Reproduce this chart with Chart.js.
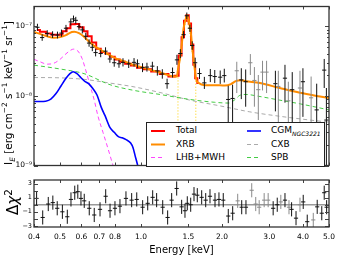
<!DOCTYPE html>
<html>
<head>
<meta charset="utf-8">
<script src="https://cdn.jsdelivr.net/npm/chart.js@4.4.1/dist/chart.umd.min.js"></script>
<style>
  html, body { margin: 0; padding: 0; background: #fff; }
  #wrap { position: relative; width: 341px; height: 256px; font-family: "DejaVu Sans", sans-serif; color: #000; }
  canvas { position: absolute; left: 0; }
  #top { top: 0; }
  #bot { top: 172px; }
  .rot { position: absolute; white-space: nowrap; transform: translate(-50%, -50%) rotate(-90deg); line-height: 1; }
  .rot sup, .rot sub { font-size: 70%; line-height: 0; }
  #ylab1 { left: 8px; top: 93px; font-size: 10.5px; }
  #ylab2 { left: 13px; top: 202px; font-size: 15px; }
  #legend { position: absolute; left: 146px; top: 122px; width: 177px; height: 43px; background: #fff; border: 1px solid #222; }
  #legend svg { position: absolute; left: 0; top: 0; }
  #legend span { position: absolute; font-size: 9px; line-height: 11px; white-space: nowrap; }
  #legend sub { font-size: 6px; font-style: italic; line-height: 0; }
</style>
</head>
<body>
<div id="wrap">
  <canvas id="top" width="341" height="172" style="width:341px;height:172px"></canvas>
  <canvas id="bot" width="341" height="84" style="width:341px;height:84px"></canvas>
  <div id="ylab1" class="rot">I<sub><i>E</i></sub> [erg cm<sup>−2</sup> s<sup>−1</sup> keV<sup>−1</sup> sr<sup>−1</sup>]</div>
  <div id="ylab2" class="rot">Δ<i>χ</i><sup>2</sup></div>
  <div id="legend">
    <svg width="177" height="43">
      <line x1="4" y1="8" x2="18" y2="8" stroke="#ff0000" stroke-width="2"/>
      <line x1="4" y1="21.5" x2="18" y2="21.5" stroke="#ff8c00" stroke-width="2"/>
      <line x1="4" y1="34.5" x2="18" y2="34.5" stroke="#ff44ff" stroke-width="1" stroke-dasharray="4,3"/>
      <line x1="100" y1="8" x2="114" y2="8" stroke="#0000ff" stroke-width="1.6"/>
      <line x1="100" y1="21.5" x2="114" y2="21.5" stroke="#aaaaaa" stroke-width="1" stroke-dasharray="4,3"/>
      <line x1="100" y1="34.5" x2="114" y2="34.5" stroke="#44cc44" stroke-width="1" stroke-dasharray="4,3"/>
    </svg>
    <span style="left:29px;top:2px">Total</span>
    <span style="left:29px;top:16px">XRB</span>
    <span style="left:29px;top:29px">LHB+MWH</span>
    <span style="left:124px;top:2px">CGM<sub>NGC3221</sub></span>
    <span style="left:124px;top:16px">CXB</span>
    <span style="left:124px;top:29px">SPB</span>
  </div>
</div>
<script>
// spectrum data (black points)
const dataE = [0.412,0.429,0.448,0.469,0.489,0.506,0.526,0.548,0.561,0.572,0.588,0.605,0.623,0.641,0.659,0.678,0.708,0.738,0.766,0.795,0.828,0.857,0.900,0.942,0.970,1.013,1.052,1.102,1.150,1.200,1.250,1.310,1.360,1.400,1.440,1.480,1.520,1.550,1.590,1.650,1.720,1.810,1.880,1.970,2.040,2.110,2.190,2.360,2.450,3.160,3.430,3.650,4.000,4.500,4.800,4.890];
const dataV = [9.7e-8,6.9e-8,7.9e-8,7.6e-8,7.5e-8,8.0e-8,9.4e-8,1.16e-7,1.28e-7,1.22e-7,9.9e-8,8.9e-8,7.2e-8,5.75e-8,5.0e-8,4.2e-8,4.07e-8,4.4e-8,3.4e-8,3.0e-8,2.9e-8,3.04e-8,2.9e-8,3.04e-8,2.9e-8,2.55e-8,2.6e-8,2.68e-8,2.29e-8,2.07e-8,1.5e-8,2.17e-8,3.3e-8,4.07e-8,7.6e-8,1.42e-7,9.4e-8,5.3e-8,3.0e-8,2.1e-8,1.54e-8,1.96e-8,1.9e-8,1.86e-8,1.96e-8,8.9e-9,9.2e-9,1.7e-8,1.6e-8,1.5e-8,1.8e-8,1.23e-8,1.6e-8,6.3e-9,2.35e-8,4.5e-9];
const dataLo = [8.7e-8,6.2e-8,7.1e-8,6.8e-8,6.7e-8,7.1e-8,8.4e-8,1.03e-7,1.14e-7,1.09e-7,8.8e-8,7.9e-8,6.4e-8,5.1e-8,4.4e-8,3.7e-8,3.6e-8,3.9e-8,3.0e-8,2.63e-8,2.54e-8,2.65e-8,2.52e-8,2.64e-8,2.5e-8,2.2e-8,2.24e-8,2.3e-8,1.96e-8,1.77e-8,1.27e-8,1.84e-8,2.8e-8,3.5e-8,6.7e-8,1.28e-7,8.3e-8,4.6e-8,2.55e-8,1.75e-8,1.26e-8,1.58e-8,1.53e-8,1.49e-8,1.56e-8,2.5e-9,3e-9,9e-9,7e-9,6e-9,8e-9,1e-10,5e-9,1e-10,1.3e-8,1e-10];
const dataHi = [1.09e-7,7.7e-8,8.8e-8,8.5e-8,8.4e-8,9.0e-8,1.05e-7,1.3e-7,1.43e-7,1.37e-7,1.11e-7,1.0e-7,8.1e-8,6.5e-8,5.6e-8,4.75e-8,4.6e-8,5.0e-8,3.85e-8,3.42e-8,3.3e-8,3.48e-8,3.33e-8,3.5e-8,3.35e-8,2.95e-8,3.0e-8,3.1e-8,2.68e-8,2.42e-8,1.77e-8,2.56e-8,3.9e-8,4.7e-8,8.6e-8,1.58e-7,1.06e-7,6.1e-8,3.55e-8,2.5e-8,1.88e-8,2.44e-8,2.36e-8,2.32e-8,2.46e-8,1.4e-8,1.45e-8,2.5e-8,2.4e-8,2.3e-8,2.8e-8,2.2e-8,2.5e-8,1.5e-8,3.4e-8,1.3e-8];

// spectrum data (grey points)
const greyE = [2.27,2.55,2.64,2.73,2.83,2.93,3.24,3.53,3.90,4.29];
const greyV = [2.3e-8,3.0e-8,1.67e-8,1.23e-8,2.2e-8,2.2e-8,1.37e-8,8.5e-9,1.3e-8,9.4e-9];
const greyLo = [1.1e-8,2.0e-8,7e-9,4.5e-9,1.2e-8,1.1e-8,4e-9,2e-9,1e-10,1e-10];
const greyHi = [3.1e-8,4.0e-8,2.6e-8,2.0e-8,3.2e-8,3.2e-8,2.3e-8,1.6e-8,2.3e-8,1.9e-8];

// model components (total is hidden under XRB above 1.64 keV)
const totE = [0.410,0.432,0.454,0.476,0.500,0.521,0.537,0.556,0.578,0.601,0.622,0.643,0.668,0.695,0.722,0.751,0.781,0.816,0.852,0.894,0.941,0.992,1.055,1.128,1.220,1.310,1.360,1.400,1.430,1.460,1.490,1.520,1.550,1.580,1.600,1.640];
const totV = [8.9e-8,8.4e-8,7.9e-8,7.6e-8,7.6e-8,8.5e-8,9.4e-8,1.07e-7,1.08e-7,9.7e-8,8.5e-8,7.2e-8,5.87e-8,4.76e-8,4.29e-8,4.07e-8,3.67e-8,3.34e-8,3.09e-8,2.9e-8,2.73e-8,2.54e-8,2.42e-8,2.24e-8,2.07e-8,1.9e-8,1.95e-8,3.8e-8,7e-8,1.2e-7,1.45e-7,1.1e-7,5.5e-8,2.8e-8,1.8e-8,1.53e-8];
const xrbE = [0.400,0.421,0.448,0.474,0.500,0.526,0.553,0.565,0.588,0.614,0.646,0.682,0.729,0.795,0.866,0.942,1.026,1.118,1.218,1.327,1.360,1.370,1.400,1.420,1.440,1.470,1.480,1.500,1.530,1.550,1.580,1.600,1.640,1.730,1.880,2.050,2.160,2.250,2.350,2.450,2.770,3.280,3.900,4.630,5.000];
const xrbV = [8.3e-8,7.8e-8,7.2e-8,6.87e-8,7.0e-8,7.5e-8,8.3e-8,8.4e-8,8.0e-8,7.1e-8,5.87e-8,5.0e-8,4.29e-8,3.56e-8,3.14e-8,2.77e-8,2.52e-8,2.29e-8,2.09e-8,1.9e-8,1.9e-8,2.3e-8,3.7e-8,5.9e-8,9.4e-8,1.33e-7,1.46e-7,1.28e-7,8.5e-8,5.0e-8,2.68e-8,1.8e-8,1.53e-8,1.43e-8,1.43e-8,1.41e-8,1.48e-8,1.63e-8,1.68e-8,1.63e-8,1.53e-8,1.3e-8,1.11e-8,9.8e-9,9.3e-9];
const cgmE = [0.400,0.421,0.442,0.462,0.483,0.504,0.526,0.544,0.559,0.578,0.597,0.618,0.641,0.663,0.686,0.711,0.735,0.767,0.795,0.824,0.851,0.880,0.915,0.934,0.950,0.972,0.990];
const cgmV = [8.3e-9,8.3e-9,8.4e-9,9.0e-9,1.08e-8,1.39e-8,1.79e-8,2.09e-8,2.23e-8,2.09e-8,1.84e-8,1.62e-8,1.48e-8,1.27e-8,1.03e-8,6.9e-9,5.2e-9,3.5e-9,3.0e-9,2.6e-9,2.5e-9,2.35e-9,2.1e-9,1.8e-9,1.4e-9,1e-9,7e-10];
const lhbE = [0.400,0.421,0.448,0.474,0.500,0.526,0.549,0.562,0.582,0.604,0.624,0.646,0.669,0.692,0.722,0.753,0.787,0.808];
const lhbV = [3.36e-8,3.1e-8,2.86e-8,2.95e-8,3.36e-8,4.03e-8,4.57e-8,4.71e-8,4.43e-8,3.44e-8,2.29e-8,1.43e-8,8.9e-9,5.1e-9,3.0e-9,1.77e-9,1e-9,7.3e-10];
const cxbE = [0.400,0.500,0.614,0.767,0.942,1.176,1.520,1.966,2.540,3.280,4.250,5.000];
const cxbV = [1.84e-8,1.82e-8,1.73e-8,1.53e-8,1.35e-8,1.12e-8,8.7e-9,7.2e-9,5.9e-9,5.1e-9,4.5e-9,4.2e-9];
const spbE = [0.400,0.500,0.614,0.767,0.942,1.176,1.520,1.880,2.120,2.240,2.330,2.450,2.770,3.280,3.900,5.000];
const spbV = [2.77e-8,2.44e-8,2.09e-8,1.45e-8,1.2e-8,1.05e-8,8.9e-9,8.1e-9,7.9e-9,8.9e-9,1.02e-8,1.05e-8,9.8e-9,8.7e-9,7.7e-9,6.3e-9];
const lineE = [1.370,1.373,1.400,1.440,1.480,1.520,1.560,1.598,1.600];
const lineV = [5e-10,2.2e-8,3.5e-8,9e-8,1.35e-7,8e-8,3.5e-8,1.7e-8,5e-10];

// residuals
const resE = [0.409,0.431,0.452,0.470,0.488,0.510,0.532,0.549,0.567,0.582,0.598,0.615,0.642,0.670,0.704,0.739,0.767,0.800,0.835,0.879,0.923,0.964,1.014,1.059,1.105,1.143,1.204,1.256,1.300,1.357,1.416,1.457,1.486,1.530,1.574,1.619,1.681,1.740,1.805,1.884,1.949,2.022,2.111,2.192,2.368,2.456,3.10,3.21,3.43,3.63,3.77,4.01,4.15,4.52,4.70,4.80,4.90];
const resV = [0.9,-1.8,0.1,0.3,-0.5,-1.0,-1.7,0.75,1.7,1.85,0.9,0.55,-0.5,-1.45,-0.65,1.2,-0.85,-0.5,-0.2,0.9,0.65,0.75,-0.35,0.2,1.05,0.65,-0.35,-1.8,0.65,2.3,-0.3,-0.85,0.2,0,1.5,1.35,1.05,0.65,1.2,0.65,0.75,0.65,-1.6,-1.2,-0.35,-0.35,-0.5,0,0.65,-0.65,-1.9,0.4,-2.4,-0.3,-1.2,1.7,-0.35];
const resGreyE = [2.288,2.58,2.67,2.75,2.87,2.97,3.31,3.55,3.90,4.37];
const resGreyV = [0.55,2.05,0.1,-0.35,0.65,0.65,0.4,-0.35,0,-2.15];
const resErr = 1;

// axes
const xTicks = [0.4,0.5,0.6,0.7,0.8,1.0,1.5,2.0,3.0,4.0,5.0];
const yDecades = [1e-9,1e-8,1e-7];
const resTicks = [-3,-2,-1,0,1,2,3];

const binHalf = 0.018;

Chart.defaults.font.family = "'DejaVu Sans', sans-serif";
Chart.defaults.color = '#000';

function pts(xs, ys) { return xs.map((x, i) => ({x: x, y: ys[i]})); }

const supMap = {'-': '\u207B', '0': '\u2070', '1': '\u00B9', '2': '\u00B2', '3': '\u00B3', '4': '\u2074', '5': '\u2075', '6': '\u2076', '7': '\u2077', '8': '\u2078', '9': '\u2079'};
function sup(n) { return String(n).split('').map(c => supMap[c]).join(''); }

// error bar crosses drawn through the chart scales
function errorBars(sets) {
  return {
    id: 'errorBars',
    afterDatasetsDraw(chart) {
      const {ctx, chartArea: a, scales: {x, y}} = chart;
      ctx.save();
      ctx.beginPath();
      ctx.rect(a.left, a.top, a.right - a.left, a.bottom - a.top);
      ctx.clip();
      ctx.lineWidth = 1;
      sets.forEach(s => {
        ctx.strokeStyle = s.color;
        ctx.beginPath();
        s.x.forEach((e, i) => {
          const px = x.getPixelForValue(e);
          const py = y.getPixelForValue(s.y[i]);
          ctx.moveTo(x.getPixelForValue(e * (1 - binHalf)), py);
          ctx.lineTo(x.getPixelForValue(e * (1 + binHalf)), py);
          ctx.moveTo(px, y.getPixelForValue(s.lo[i]));
          ctx.lineTo(px, y.getPixelForValue(s.hi[i]));
        });
        ctx.stroke();
      });
      ctx.restore();
    }
  };
}

// matplotlib style box with inward ticks
function frame(xMajor, yMajor, yMinor) {
  return {
    id: 'frame',
    afterDraw(chart) {
      const {ctx, chartArea: a, scales: {x, y}} = chart;
      ctx.save();
      ctx.strokeStyle = '#444';
      ctx.lineWidth = 1;
      ctx.beginPath();
      xMajor.forEach(v => {
        const p = Math.round(x.getPixelForValue(v)) + 0.5;
        ctx.moveTo(p, a.bottom); ctx.lineTo(p, a.bottom - 3);
        ctx.moveTo(p, a.top); ctx.lineTo(p, a.top + 3);
      });
      yMajor.forEach(v => {
        const p = Math.round(y.getPixelForValue(v)) + 0.5;
        ctx.moveTo(a.left, p); ctx.lineTo(a.left + 4, p);
        ctx.moveTo(a.right, p); ctx.lineTo(a.right - 4, p);
      });
      yMinor.forEach(v => {
        const p = Math.round(y.getPixelForValue(v)) + 0.5;
        ctx.moveTo(a.left, p); ctx.lineTo(a.left + 2, p);
        ctx.moveTo(a.right, p); ctx.lineTo(a.right - 2, p);
      });
      ctx.stroke();
      ctx.lineWidth = 1.3;
      ctx.strokeStyle = '#333';
      ctx.strokeRect(a.left, a.top, a.right - a.left, a.bottom - a.top);
      ctx.restore();
    }
  };
}

const yMinor = [];
yDecades.forEach(d => { for (let k = 2; k <= 9; k++) if (d * k < 1.93e-7) yMinor.push(d * k); });

const dashed = {borderWidth: 1, borderDash: [4, 3], cubicInterpolationMode: 'monotone'};

new Chart(document.getElementById('top'), {
  type: 'line',
  data: {
    datasets: [
      {data: pts(xrbE, xrbV), borderColor: '#ff8c00', borderWidth: 2, cubicInterpolationMode: 'monotone'},
      {data: pts(totE, totV), borderColor: '#ff0000', borderWidth: 2, stepped: 'middle'},
      {data: pts(cgmE, cgmV), borderColor: '#0000ff', borderWidth: 1.6, cubicInterpolationMode: 'monotone'},
      Object.assign({data: pts(lhbE, lhbV), borderColor: '#ff44ff'}, dashed),
      Object.assign({data: pts(spbE, spbV), borderColor: '#44cc44'}, dashed),
      Object.assign({data: pts(cxbE, cxbV), borderColor: '#aaaaaa'}, dashed),
      {data: pts(lineE, lineV), borderColor: '#ffd000', borderWidth: 1, borderDash: [1, 2]}
    ]
  },
  options: {
    responsive: false, animation: false, events: [],
    layout: {padding: {left: 0, right: 12, top: 2, bottom: 2}},
    elements: {point: {radius: 0}, line: {fill: false}},
    plugins: {legend: {display: false}, tooltip: {enabled: false}},
    scales: {
      x: {type: 'logarithmic', min: 0.4, max: 5, display: false},
      y: {
        type: 'logarithmic', min: 1e-9, max: 1.93e-7,
        afterFit(s) { s.width = 34; },
        afterBuildTicks(s) { s.ticks = yDecades.map(v => ({value: v})); },
        grid: {display: false, drawTicks: false},
        border: {display: false},
        ticks: {padding: 2, font: {size: 7.5}, callback: v => '10' + sup(Math.round(Math.log10(v)))}
      }
    }
  },
  plugins: [
    errorBars([
      {x: greyE, y: greyV, lo: greyLo, hi: greyHi, color: '#8a8a8a'},
      {x: dataE, y: dataV, lo: dataLo, hi: dataHi, color: '#111'}
    ]),
    frame(xTicks, yDecades, yMinor)
  ]
});

new Chart(document.getElementById('bot'), {
  type: 'line',
  data: {
    datasets: [
      {data: [{x: 0.4, y: 0}, {x: 5, y: 0}], borderColor: '#999', borderWidth: 1.5}
    ]
  },
  options: {
    responsive: false, animation: false, events: [],
    layout: {padding: {left: 0, right: 12, top: 8, bottom: 0}},
    elements: {point: {radius: 0}},
    plugins: {legend: {display: false}, tooltip: {enabled: false}},
    scales: {
      x: {
        type: 'logarithmic', min: 0.4, max: 5,
        afterFit(s) { s.height = 29; },
        afterBuildTicks(s) { s.ticks = xTicks.map(v => ({value: v})); },
        grid: {display: false, drawTicks: false},
        border: {display: false},
        ticks: {padding: 6, autoSkip: false, maxRotation: 0, font: {size: 7.5}, callback: v => v.toFixed(1)},
        title: {display: true, text: 'Energy [keV]', font: {size: 10}, padding: 0}
      },
      y: {
        min: -3.15, max: 3.5,
        afterFit(s) { s.width = 34; },
        afterBuildTicks(s) { s.ticks = resTicks.map(v => ({value: v})); },
        grid: {display: false, drawTicks: false},
        border: {display: false},
        ticks: {padding: 2, font: {size: 6.5}, callback: v => (v < 0 ? '\u2212' + Math.abs(v) : String(v))}
      }
    }
  },
  plugins: [
    errorBars([
      {x: resGreyE, y: resGreyV, lo: resGreyV.map(v => v - resErr), hi: resGreyV.map(v => v + resErr), color: '#8a8a8a'},
      {x: resE, y: resV, lo: resV.map(v => v - resErr), hi: resV.map(v => v + resErr), color: '#111'}
    ]),
    frame(xTicks, resTicks, [])
  ]
});
</script>
</body>
</html>
